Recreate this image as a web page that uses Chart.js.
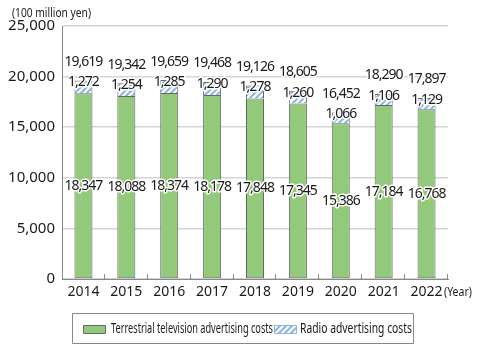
<!DOCTYPE html>
<html>
<head>
<meta charset="utf-8">
<script src="https://cdn.jsdelivr.net/npm/chart.js@4"></script>
<style>
  html, body { margin: 0; padding: 0; background: #fff; }
  #wrap { width: 484px; height: 347px; position: relative; }
</style>
</head>
<body>
<div id="wrap"><canvas id="chart" width="484" height="347"></canvas></div>
<script>
// Chart data
const years = ['2014', '2015', '2016', '2017', '2018', '2019', '2020', '2021', '2022'];
const tvCosts = [18347, 18088, 18374, 18178, 17848, 17345, 15386, 17184, 16768];
const radioCosts = [1272, 1254, 1285, 1290, 1278, 1260, 1066, 1106, 1129];
const totals = [19619, 19342, 19659, 19468, 19126, 18605, 16452, 18290, 17897];
const seriesNames = ['Terrestrial television advertising costs', 'Radio advertising costs'];

const green = '#93c97b';
const edge = '#666666';
const numFont = '"Noto Sans", sans-serif';

function makeHatch() {
    const c = document.createElement('canvas');
    c.width = 6; c.height = 6;
    const g = c.getContext('2d');
    g.fillStyle = '#ffffff';
    g.fillRect(0, 0, 6, 6);
    g.strokeStyle = '#8db4e2';
    g.lineWidth = 2;
    g.beginPath();
    g.moveTo(-1, 7); g.lineTo(7, -1);
    g.moveTo(-4, 4); g.lineTo(4, -4);
    g.moveTo(2, 10); g.lineTo(10, 2);
    g.stroke();
    return g.createPattern(c, 'repeat');
}
const hatch = makeHatch();

function fmt(v) {
    return v.toLocaleString('en-US');
}

function haloText(ctx, txt, x, y) {
    ctx.strokeText(txt, x, y);
    ctx.fillText(txt, x, y);
}

// Labels, inner tick marks, units and framed legend
const decorPlugin = {
    id: 'decor',
    afterDatasetsDraw(chart) {
        const ctx = chart.ctx;
        const xs = chart.scales.x;
        const ys = chart.scales.y;
        const area = chart.chartArea;
        ctx.save();

        // small tick marks between categories, pointing up into the plot
        const step = xs.width / years.length;
        ctx.strokeStyle = '#888';
        ctx.lineWidth = 1;
        ctx.beginPath();
        for (let i = 1; i <= years.length; i++) {
            const x = Math.round(xs.left + step * i) - 0.5;
            ctx.moveTo(x, area.bottom);
            ctx.lineTo(x, area.bottom - 5);
        }
        ctx.stroke();

        // value labels
        ctx.font = '14px ' + numFont;
        ctx.letterSpacing = '-1px';
        ctx.textAlign = 'center';
        ctx.textBaseline = 'middle';
        ctx.fillStyle = '#1a1a1a';
        ctx.strokeStyle = '#ffffff';
        ctx.lineWidth = 3;
        ctx.lineJoin = 'round';
        const tvMeta = chart.getDatasetMeta(0);
        const rdMeta = chart.getDatasetMeta(1);
        years.forEach((y, i) => {
            const tvBar = tvMeta.data[i];
            const rdBar = rdMeta.data[i];
            const x = tvBar.x;
            haloText(ctx, fmt(tvCosts[i]), x, (tvBar.y + tvBar.base) / 2);
            haloText(ctx, fmt(radioCosts[i]), x, rdBar.y + 2);
            haloText(ctx, fmt(totals[i]), x, ys.getPixelForValue(totals[i]) - 18.5);
        });
        ctx.letterSpacing = '0px';

        // unit labels (narrow lettering)
        ctx.font = '13px ' + numFont;
        ctx.fillStyle = '#1a1a1a';
        ctx.textAlign = 'left';
        ctx.fillText('(100 million yen)', 12, 13, 79);
        ctx.fillText('(Year)', 444, 292, 28);

        // legend
        const lx = 72, ly = 313, lw = 341, lh = 30;
        ctx.strokeStyle = '#888';
        ctx.lineWidth = 1;
        ctx.strokeRect(lx + 0.5, ly + 0.5, lw, lh);

        ctx.fillStyle = green;
        ctx.fillRect(83, 325, 22, 8);
        ctx.strokeStyle = edge;
        ctx.strokeRect(83.5, 325.5, 22, 8);
        ctx.fillStyle = '#1a1a1a';
        ctx.font = '14px ' + numFont;
        ctx.fillText(seriesNames[0], 111, 329, 162);

        ctx.fillStyle = hatch;
        ctx.fillRect(274, 325, 22, 8);
        ctx.strokeStyle = '#8db4e2';
        ctx.strokeRect(274.5, 325.5, 22, 8);
        ctx.fillStyle = '#1a1a1a';
        ctx.fillText(seriesNames[1], 300, 329, 112);

        ctx.restore();
    }
};

new Chart(document.getElementById('chart'), {
    type: 'bar',
    data: {
        labels: years,
        datasets: [
            {
                label: seriesNames[0],
                data: tvCosts,
                backgroundColor: green,
                borderColor: edge,
                borderWidth: 1,
                borderSkipped: false,
                categoryPercentage: 1,
                barPercentage: 0.42
            },
            {
                label: seriesNames[1],
                data: radioCosts,
                backgroundColor: hatch,
                borderColor: edge,
                borderWidth: 1,
                borderSkipped: 'bottom',
                categoryPercentage: 1,
                barPercentage: 0.42
            }
        ]
    },
    options: {
        responsive: false,
        animation: false,
        devicePixelRatio: 1,
        layout: {
            padding: { top: 26, right: 36, bottom: 40, left: 0 }
        },
        plugins: {
            legend: { display: false },
            tooltip: { enabled: false }
        },
        scales: {
            x: {
                stacked: true,
                offset: true,
                afterFit: (s) => { s.height = 28; },
                grid: { display: false, drawTicks: false },
                border: { display: true, color: '#888', width: 1 },
                ticks: {
                    color: '#1a1a1a',
                    padding: 5,
                    font: { family: numFont, size: 14 }
                }
            },
            y: {
                stacked: true,
                min: 0,
                max: 25000,
                afterFit: (s) => { s.width = 62; },
                grid: { color: '#d4d4d4', lineWidth: 1.5, drawTicks: false },
                border: { display: true, color: '#888', width: 1 },
                ticks: {
                    stepSize: 5000,
                    color: '#1a1a1a',
                    padding: 7,
                    font: { family: numFont, size: 15 },
                    callback: (v) => fmt(v)
                }
            }
        }
    },
    plugins: [decorPlugin]
});
</script>
</body>
</html>
